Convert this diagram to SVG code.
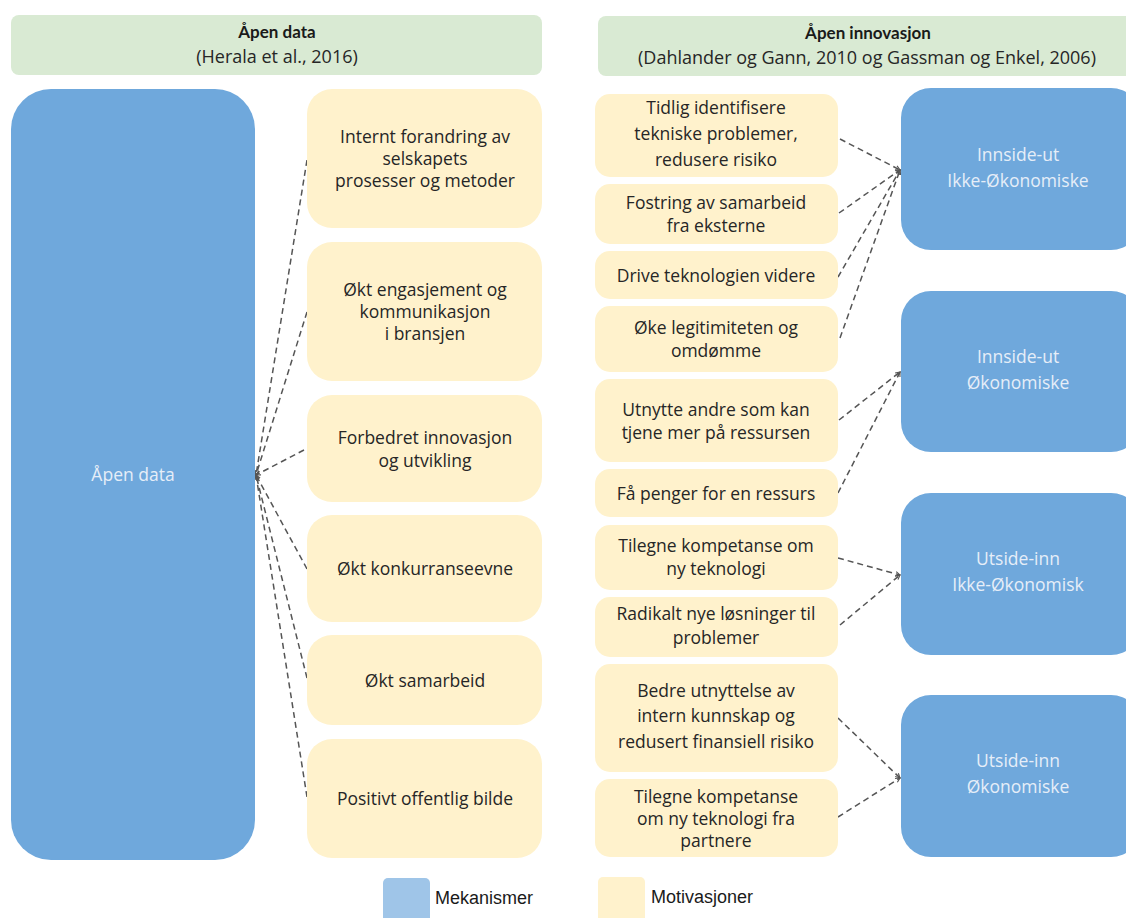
<svg xmlns="http://www.w3.org/2000/svg" width="1126" height="918" viewBox="0 0 1126 918">
  <style>
    .hdr { fill: #d9ead3; }
    .mech { fill: #6fa8dc; }
    .motiv { fill: #fff2cc; }
    text { font-family: "Open Sans", Lato, sans-serif; }
    .t { font-size: 17.5px; fill: #262626; text-anchor: middle; }
    .sub { font-size: 18px; }
    .tb { font-family: Lato, "Open Sans", sans-serif; font-size: 17px; fill: #1a1a1a; font-weight: bold; text-anchor: middle; }
    .tw { font-size: 17.5px; fill: #e6eef8; text-anchor: middle; }
    .leg { font-family: "Liberation Sans", Arial, sans-serif; font-size: 18px; fill: #1a1a1a; }
    .edge { fill: none; stroke: #555; stroke-width: 1.5; stroke-dasharray: 6 4; marker-end: url(#arr); }
  </style>
  <defs>
    <marker id="arr" viewBox="0 0 8 8" refX="7" refY="4" markerWidth="6" markerHeight="6" orient="auto" markerUnits="userSpaceOnUse">
      <path d="M1,1 L7,4 L1,7" fill="none" stroke="#555" stroke-width="1.5"/>
    </marker>
  </defs>
  <rect width="1126" height="918" fill="#ffffff"/>

  <!-- column headers -->
  <g id="hdr-open-data">
    <rect class="hdr" x="11" y="15" width="531" height="60" rx="8"/>
    <text class="tb" x="277" y="38">Åpen data</text>
    <text class="t sub" x="277" y="63">(Herala et al., 2016)</text>
  </g>
  <g id="hdr-open-innovation">
    <rect class="hdr" x="598" y="16" width="540" height="60" rx="8"/>
    <text class="tb" x="868" y="39">Åpen innovasjon</text>
    <text class="t sub" x="867" y="64">(Dahlander og Gann, 2010 og Gassman og Enkel, 2006)</text>
  </g>

  <!-- connectors -->
  <g id="connectors">
    <path class="edge" d="M307,160 L256,475"/>
    <path class="edge" d="M307,312 L256,475"/>
    <path class="edge" d="M304,450 L256,475"/>
    <path class="edge" d="M307,569 L256,475"/>
    <path class="edge" d="M307,678 L256,475"/>
    <path class="edge" d="M307,797 L256,475"/>

    <path class="edge" d="M840,139 L900,170"/>
    <path class="edge" d="M839,213 L900,170"/>
    <path class="edge" d="M838,277 L900,170"/>
    <path class="edge" d="M840,338 L900,170"/>

    <path class="edge" d="M839,420 L900,372"/>
    <path class="edge" d="M838,493 L900,372"/>

    <path class="edge" d="M838,558 L900,575"/>
    <path class="edge" d="M840,625 L900,575"/>

    <path class="edge" d="M838,718 L900,778"/>
    <path class="edge" d="M838,817 L900,778"/>
  </g>

  <!-- mechanisms -->
  <g id="mech-open-data">
    <rect class="mech" x="11" y="89" width="244" height="771" rx="40"/>
    <text class="tw" x="133" y="481">Åpen data</text>
  </g>
  <g id="mech-io-nonfin">
    <rect class="mech" x="901" y="88" width="240" height="162" rx="30"/>
    <text class="tw" x="1018" y="161">Innside-ut</text>
    <text class="tw" x="1018" y="187">Ikke-Økonomiske</text>
  </g>
  <g id="mech-io-fin">
    <rect class="mech" x="901" y="291" width="240" height="161" rx="30"/>
    <text class="tw" x="1018" y="363">Innside-ut</text>
    <text class="tw" x="1018" y="389">Økonomiske</text>
  </g>
  <g id="mech-oi-nonfin">
    <rect class="mech" x="901" y="493" width="240" height="162" rx="30"/>
    <text class="tw" x="1018" y="565">Utside-inn</text>
    <text class="tw" x="1018" y="591">Ikke-Økonomisk</text>
  </g>
  <g id="mech-oi-fin">
    <rect class="mech" x="901" y="695" width="240" height="162" rx="30"/>
    <text class="tw" x="1018" y="767">Utside-inn</text>
    <text class="tw" x="1018" y="793">Økonomiske</text>
  </g>

  <!-- open data motivations -->
  <g id="od-1">
    <rect class="motiv" x="307" y="89" width="235" height="139" rx="25"/>
    <text class="t" x="425" y="143">Internt forandring av</text>
    <text class="t" x="425" y="165">selskapets</text>
    <text class="t" x="425" y="187">prosesser og metoder</text>
  </g>
  <g id="od-2">
    <rect class="motiv" x="307" y="242" width="235" height="139" rx="25"/>
    <text class="t" x="425" y="296">Økt engasjement og</text>
    <text class="t" x="425" y="318">kommunikasjon</text>
    <text class="t" x="425" y="340">i bransjen</text>
  </g>
  <g id="od-3">
    <rect class="motiv" x="307" y="395" width="235" height="107" rx="25"/>
    <text class="t" x="425" y="444">Forbedret innovasjon</text>
    <text class="t" x="425" y="467">og utvikling</text>
  </g>
  <g id="od-4">
    <rect class="motiv" x="307" y="515" width="235" height="107" rx="25"/>
    <text class="t" x="425" y="575">Økt konkurranseevne</text>
  </g>
  <g id="od-5">
    <rect class="motiv" x="307" y="635" width="235" height="90" rx="25"/>
    <text class="t" x="425" y="687">Økt samarbeid</text>
  </g>
  <g id="od-6">
    <rect class="motiv" x="307" y="739" width="235" height="119" rx="25"/>
    <text class="t" x="425" y="805">Positivt offentlig bilde</text>
  </g>

  <!-- open innovation motivations -->
  <g id="oi-1">
    <rect class="motiv" x="595" y="94" width="243" height="83" rx="15"/>
    <text class="t" x="716" y="114">Tidlig identifisere</text>
    <text class="t" x="716" y="140">tekniske problemer,</text>
    <text class="t" x="716" y="166">redusere risiko</text>
  </g>
  <g id="oi-2">
    <rect class="motiv" x="595" y="184" width="243" height="60" rx="15"/>
    <text class="t" x="716" y="209">Fostring av samarbeid</text>
    <text class="t" x="716" y="232">fra eksterne</text>
  </g>
  <g id="oi-3">
    <rect class="motiv" x="595" y="251" width="243" height="48" rx="15"/>
    <text class="t" x="716" y="282">Drive teknologien videre</text>
  </g>
  <g id="oi-4">
    <rect class="motiv" x="595" y="306" width="243" height="66" rx="15"/>
    <text class="t" x="716" y="334">Øke legitimiteten og</text>
    <text class="t" x="716" y="357">omdømme</text>
  </g>
  <g id="oi-5">
    <rect class="motiv" x="595" y="379" width="243" height="83" rx="15"/>
    <text class="t" x="716" y="416">Utnytte andre som kan</text>
    <text class="t" x="716" y="439">tjene mer på ressursen</text>
  </g>
  <g id="oi-6">
    <rect class="motiv" x="595" y="469" width="243" height="48" rx="15"/>
    <text class="t" x="716" y="500">Få penger for en ressurs</text>
  </g>
  <g id="oi-7">
    <rect class="motiv" x="595" y="525" width="243" height="65" rx="15"/>
    <text class="t" x="716" y="552">Tilegne kompetanse om</text>
    <text class="t" x="716" y="575">ny teknologi</text>
  </g>
  <g id="oi-8">
    <rect class="motiv" x="595" y="597" width="243" height="60" rx="15"/>
    <text class="t" x="716" y="620">Radikalt nye løsninger til</text>
    <text class="t" x="716" y="644">problemer</text>
  </g>
  <g id="oi-9">
    <rect class="motiv" x="595" y="664" width="243" height="108" rx="15"/>
    <text class="t" x="716" y="697">Bedre utnyttelse av</text>
    <text class="t" x="716" y="722">intern kunnskap og</text>
    <text class="t" x="716" y="748">redusert finansiell risiko</text>
  </g>
  <g id="oi-10">
    <rect class="motiv" x="595" y="779" width="243" height="78" rx="15"/>
    <text class="t" x="716" y="803">Tilegne kompetanse</text>
    <text class="t" x="716" y="825">om ny teknologi fra</text>
    <text class="t" x="716" y="847">partnere</text>
  </g>

  <!-- legend -->
  <g id="legend">
    <rect x="383" y="878" width="47" height="48" rx="5" fill="#9fc5e8"/>
    <text class="leg" x="435" y="904">Mekanismer</text>
    <rect x="598" y="877" width="47" height="48" rx="5" fill="#fff2cc"/>
    <text class="leg" x="651" y="903">Motivasjoner</text>
  </g>
</svg>
